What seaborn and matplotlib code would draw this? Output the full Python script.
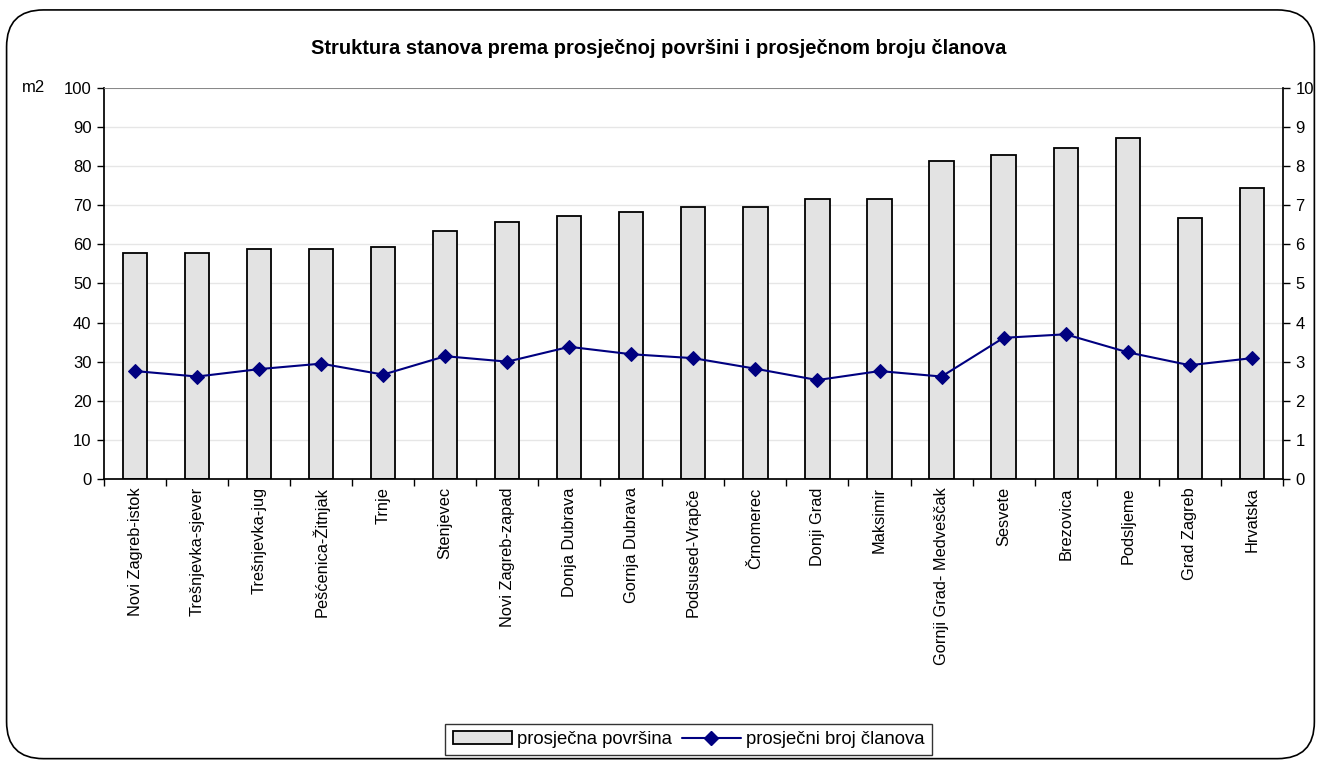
import pandas as pd
import seaborn as sns
import numpy as np
import matplotlib.pyplot as plt
from matplotlib.patches import FancyBboxPatch, Patch
from matplotlib.lines import Line2D


## DATA
districts = ['Novi Zagreb-istok', 'Trešnjevka-sjever', 'Trešnjevka-jug',
             'Pešćenica-Žitnjak', 'Trnje', 'Stenjevec', 'Novi Zagreb-zapad',
             'Donja Dubrava', 'Gornja Dubrava', 'Podsused-Vrapče', 'Črnomerec',
             'Donji Grad', 'Maksimir', 'Gornji Grad- Medveščak', 'Sesvete',
             'Brezovica', 'Podsljeme', 'Grad Zagreb', 'Hrvatska']
area = [57.7, 57.7, 58.8, 58.8, 59.2, 63.5, 65.8, 67.2, 68.2, 69.6, 69.6,
        71.5, 71.5, 81.3, 82.8, 84.7, 87.2, 66.7, 74.3]
members = [2.76, 2.62, 2.81, 2.95, 2.67, 3.14, 3.00, 3.38, 3.19, 3.09, 2.82,
           2.53, 2.76, 2.62, 3.61, 3.70, 3.24, 2.91, 3.09]

df = pd.DataFrame({'Kvart': districts, 'Povrsina': area, 'Clanovi': members})


## STYLE
sns.set_theme(style='white', rc={'text.color': 'black',
                                 'axes.labelcolor': 'black',
                                 'xtick.color': 'black',
                                 'ytick.color': 'black'})
plt.rcParams['font.family'] = ['Liberation Sans', 'DejaVu Sans']

fig = plt.figure(figsize=(13.17, 7.64), dpi=100)
ax = fig.add_axes([0.079, 0.373, 0.895, 0.512])

## BARS
sns.barplot(data=df, x='Kvart', y='Povrsina', ax=ax, color='#e3e3e3',
            saturation=1, width=0.39, edgecolor='black', linewidth=1.3)

ax.set_ylim(0, 100)
ax.set_xlim(-0.5, len(districts) - 0.5)
ax.set_yticks(np.arange(0, 101, 10))
ax.yaxis.grid(True, color='#e6e6e6', linewidth=1)
ax.set_axisbelow(True)
ax.set_xlabel('')
ax.set_ylabel('')
ax.set_xticks(np.arange(len(districts)))
ax.set_xticklabels(districts, rotation=90, fontsize=11.8)
ax.tick_params(axis='x', length=0, pad=6)
ax.set_xticks(np.arange(-0.5, len(districts), 1), minor=True)
ax.tick_params(axis='x', which='minor', length=5, width=1, color='black',
               direction='out', bottom=True)
ax.tick_params(axis='y', length=5, width=1, color='black', direction='out',
               left=True, labelsize=12, pad=4)
for s in ['top', 'right']:
    ax.spines[s].set_visible(False)
ax.spines['left'].set_color('black')
ax.spines['bottom'].set_color('black')
ax.axhline(100, color='#808080', linewidth=1.3, zorder=3)
ax.text(-0.07, 1.0, 'm2', transform=ax.transAxes, ha='left', va='center',
        fontsize=12)

## LINE
ax2 = ax.twinx()
sns.lineplot(x=np.arange(len(districts)), y=df['Clanovi'], ax=ax2,
             color='#000080', marker='D', markersize=7, linewidth=1.5,
             markeredgecolor='#000080')
ax2.set_ylim(0, 10)
ax2.set_yticks(np.arange(0, 11, 1))
ax2.set_ylabel('')
ax2.tick_params(axis='y', length=5, width=1, color='black', direction='out',
                right=True, labelsize=12, pad=4)
for s in ['top', 'left', 'bottom']:
    ax2.spines[s].set_visible(False)
ax2.spines['right'].set_color('black')
ax2.grid(False)

## TITLE
fig.text(0.5, 0.937, 'Struktura stanova prema prosječnoj površini i prosječnom broju članova',
         ha='center', va='center', fontsize=14.5, fontweight='bold')

## LEGEND
handles = [Patch(facecolor='#e3e3e3', edgecolor='black', linewidth=1.3),
           Line2D([0], [0], color='#000080', marker='D', markersize=7,
                  linewidth=1.5)]
leg = fig.legend(handles, ['prosječna površina', 'prosječni broj članova'],
                 loc='center', bbox_to_anchor=(0.523, 0.032), ncol=2,
                 frameon=True, fancybox=False, fontsize=13.3,
                 handlelength=3.2, columnspacing=0.5, handletextpad=0.3,
                 borderpad=0.4)
leg.get_frame().set_edgecolor('black')
leg.get_frame().set_linewidth(1)

## ROUNDED BORDER
border = FancyBboxPatch((0.005, 0.007), 0.993, 0.98,
                        boxstyle='round,pad=0,rounding_size=0.028',
                        transform=fig.transFigure, facecolor='none',
                        edgecolor='black', linewidth=1.2,
                        mutation_aspect=1317 / 764)
fig.patches.append(border)

fig.savefig('out.png', dpi=100)
